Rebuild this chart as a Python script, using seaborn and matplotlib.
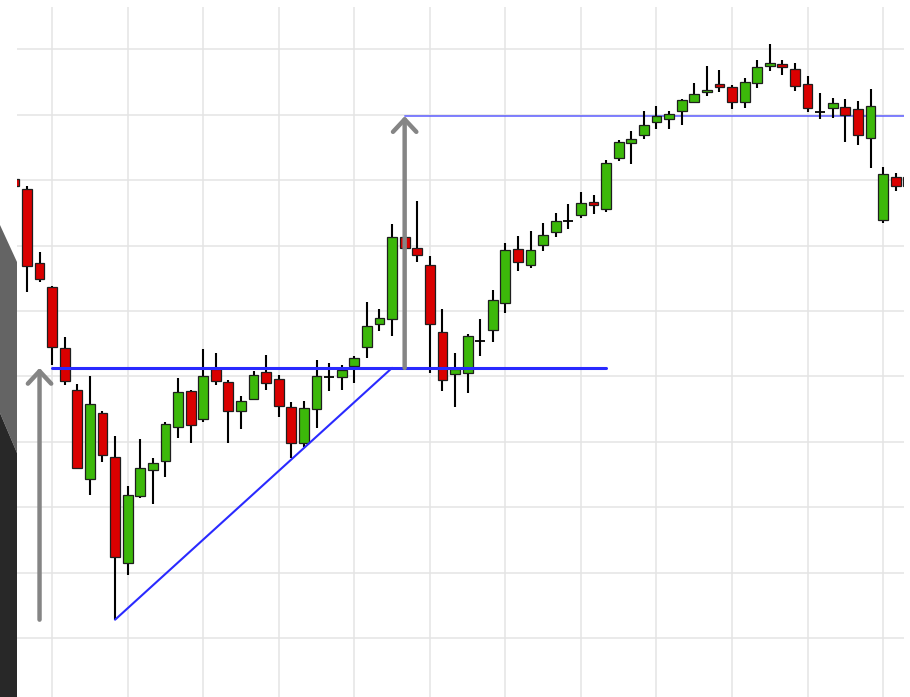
import numpy as np
import matplotlib
matplotlib.use("Agg")
import matplotlib.pyplot as plt
from matplotlib.patches import Polygon
import seaborn as sns

# OHLC prices (one entry per candle)
opens = [170.2, 168.7, 157.3, 153.7, 144.3, 137.9, 124.3, 134.4, 127.7, 111.5,
         121.7, 125.7, 127.1, 132.3, 137.8, 133.5, 141.1, 139.1, 134.7, 136.5,
         140.7, 139.6, 135.3, 129.8, 135.0, 139.9, 139.9, 141.6, 144.5, 148.0,
         148.8, 161.3, 159.6, 157.0, 146.8, 140.4, 140.5, 145.4, 147.1, 151.2,
         159.5, 157.0, 160.1, 162.1, 163.8, 164.7, 166.7, 165.6, 173.4, 175.7,
         176.9, 178.9, 179.4, 180.6, 182.0, 183.5, 184.7, 184.3, 182.0, 184.9,
         187.5, 187.8, 187.0, 184.7, 180.4, 181.0, 181.2, 180.9, 176.5, 163.9,
         170.5, 170.5]
highs = [170.4, 169.1, 159.0, 153.8, 146.0, 138.8, 140.1, 134.7, 130.9, 123.2,
         130.4, 127.5, 133.0, 139.8, 137.9, 144.2, 143.6, 139.4, 137.0, 140.8,
         143.3, 140.2, 136.1, 136.2, 142.5, 142.0, 141.7, 143.1, 151.4, 150.3,
         163.3, 161.5, 166.8, 158.4, 150.3, 143.6, 146.5, 148.8, 153.2, 160.4,
         161.5, 162.2, 163.5, 165.0, 166.4, 168.2, 167.7, 173.1, 176.1, 177.5,
         180.6, 181.3, 180.6, 182.4, 184.9, 187.5, 186.9, 184.6, 185.6, 188.4,
         190.8, 188.4, 187.9, 185.9, 183.3, 182.6, 182.4, 182.1, 183.9, 172.0,
         171.1, 170.9]
lows = [169.1, 152.9, 154.4, 141.7, 138.7, 125.8, 121.9, 126.9, 102.8, 109.6,
        121.4, 120.5, 124.6, 130.6, 129.8, 133.0, 138.7, 129.8, 132.0, 136.4,
        137.9, 133.8, 127.5, 129.2, 132.1, 137.8, 137.9, 139.0, 142.8, 146.9,
        146.2, 159.5, 157.5, 140.5, 137.8, 135.3, 137.5, 143.1, 145.3, 149.7,
        156.1, 156.6, 159.2, 161.3, 162.5, 164.2, 164.8, 165.1, 172.9, 172.5,
        176.3, 177.8, 177.8, 178.4, 181.8, 182.9, 183.5, 180.9, 181.0, 184.1,
        186.7, 186.1, 183.6, 180.4, 179.4, 179.5, 175.8, 175.4, 171.9, 163.5,
        168.3, 168.5]
closes = [169.1, 156.9, 154.9, 144.5, 139.3, 126.0, 135.8, 128.0, 112.4, 121.9,
          126.0, 126.8, 132.7, 137.6, 132.6, 140.1, 139.3, 134.7, 136.2, 140.2,
          139.0, 135.5, 129.8, 135.2, 140.1, 139.9, 141.0, 142.8, 147.7, 148.9,
          161.3, 159.6, 158.6, 148.0, 139.4, 141.1, 146.2, 145.4, 151.7, 159.3,
          157.5, 159.3, 161.6, 163.8, 163.8, 166.5, 166.2, 172.6, 175.8, 176.3,
          178.4, 179.8, 180.1, 182.3, 183.2, 183.8, 184.3, 182.0, 185.0, 187.3,
          187.9, 187.3, 184.4, 181.0, 180.4, 181.8, 180.0, 176.9, 181.3, 171.0,
          169.1, 169.1]

# pattern annotations
neckline = 141.3
neck_start, neck_end = 3, 47
pattern_low_idx, pattern_low = 8, 102.8
breakout_idx = 30
arrow1_idx, arrow2_idx = 2, 31
target = 179.8

sns.set_theme(style="whitegrid")
plt.rcParams['font.family'] = ['DejaVu Sans']

fig = plt.figure(figsize=(9.1, 6.97), dpi=100)
ax = fig.add_axes([17 / 910, 0, 887 / 910, 690 / 697])

x = np.arange(len(opens))
o = np.array(opens)
h = np.array(highs)
l = np.array(lows)
c = np.array(closes)

# wicks
ax.vlines(x, l, h, color="black", linewidth=1.5, zorder=3)

# bodies
up = c > o
down = c < o
doji = c == o
ax.bar(x[up], (c - o)[up], bottom=o[up], width=0.78, color="#3cb80a",
       edgecolor="#1e1e1e", linewidth=0.9, zorder=4)
ax.bar(x[down], (o - c)[down], bottom=c[down], width=0.78, color="#da0000",
       edgecolor="#1e1e1e", linewidth=0.9, zorder=4)
ax.hlines(o[doji], x[doji] - 0.39, x[doji] + 0.39, color="black",
          linewidth=1.3, zorder=4)

# neckline, support trend line and target line
ax.plot([neck_start, neck_end], [neckline, neckline], color="#2a2aff",
        linewidth=2.2, zorder=5)
ax.plot([pattern_low_idx, breakout_idx], [pattern_low, neckline],
        color="#2a2aff", linewidth=1.5, zorder=5)
ax.plot([arrow2_idx, 75], [target, target], color="#5555ff", alpha=0.75,
        linewidth=1.4, zorder=2)

# measured move arrows
for xi, y0, y1 in [(arrow1_idx, pattern_low, neckline),
                   (arrow2_idx, neckline, target)]:
    ax.annotate("", xy=(xi, y1), xytext=(xi, y0),
                arrowprops=dict(arrowstyle="->,head_length=0.45,head_width=0.42",
                                color="#858585", linewidth=3.2,
                                capstyle="round", mutation_scale=20,
                                shrinkA=0, shrinkB=0),
                zorder=6)

ax.set_xlim(0.21, 70.66)
ax.set_ylim(90.98, 196.48)
ax.set_xticks(np.arange(3, 71, 6))
ax.set_yticks(np.arange(100, 191, 10))
ax.set_xticklabels([])
ax.set_yticklabels([])
ax.tick_params(length=0)
ax.grid(True, color="#e4e4e4", linewidth=1.1)
for s in ax.spines.values():
    s.set_visible(False)

# dark decoration on the left edge
def fig_pts(pts):
    return [(px / 910, 1 - py / 697) for px, py in pts]

fig.patches.append(Polygon(fig_pts([(0, 225), (17, 262), (17, 453), (0, 413)]),
                           closed=True, facecolor="#646464", edgecolor="none",
                           transform=fig.transFigure, figure=fig))
fig.patches.append(Polygon(fig_pts([(0, 413), (17, 453), (17, 697), (0, 697)]),
                           closed=True, facecolor="#282828", edgecolor="none",
                           transform=fig.transFigure, figure=fig))

fig.savefig("out.png", dpi=100)
